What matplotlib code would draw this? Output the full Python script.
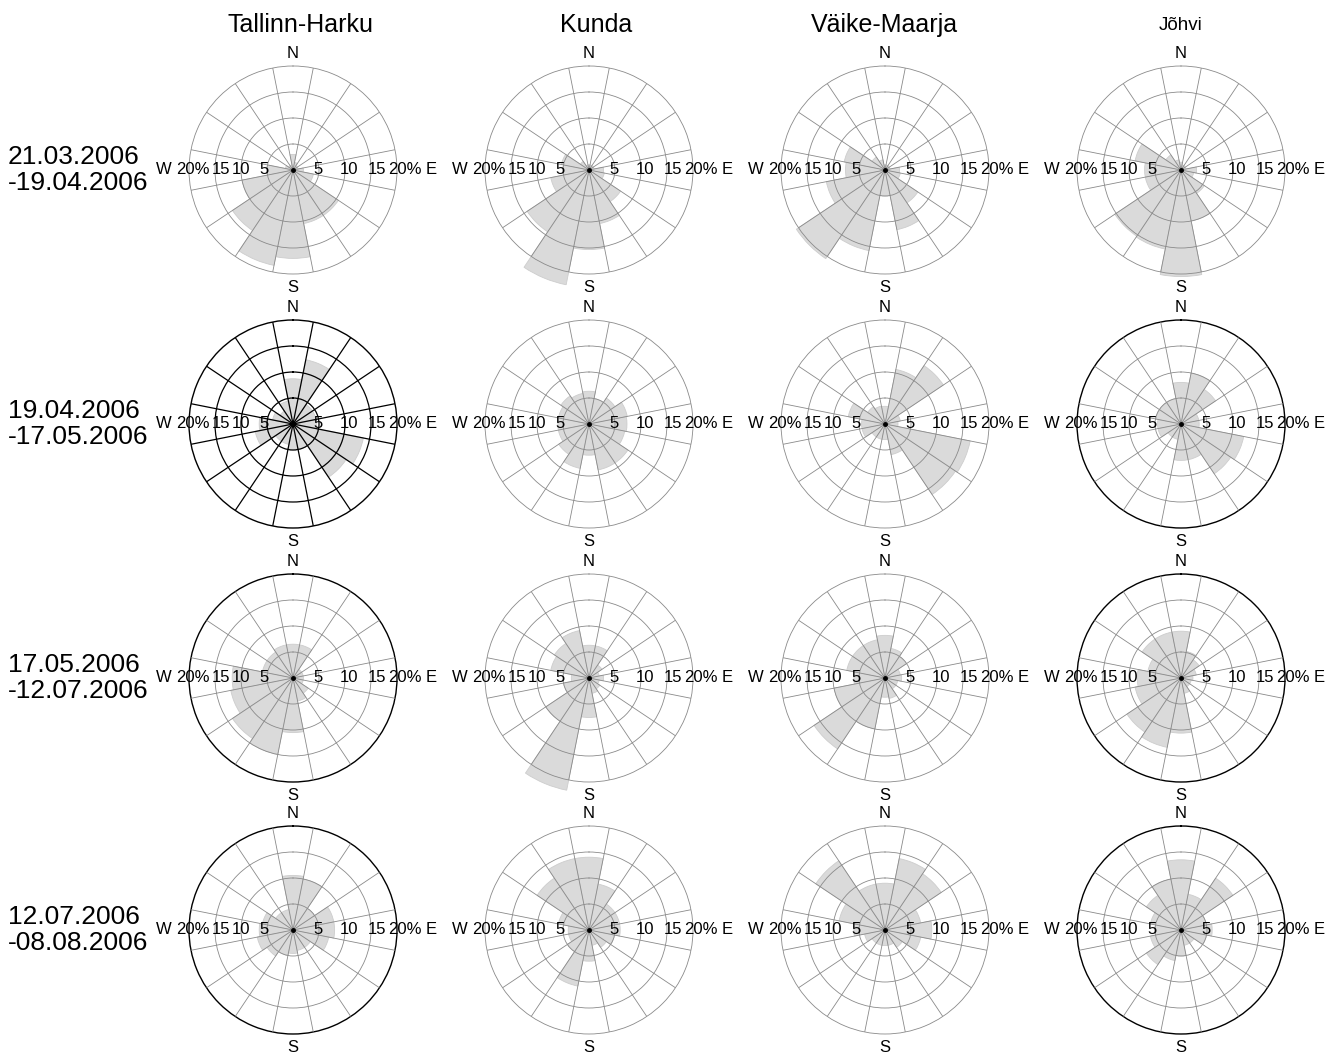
import numpy as np
import matplotlib.pyplot as plt

plt.rcParams['font.family'] = ['Liberation Sans', 'DejaVu Sans']

# 16 directions, clockwise from north
directions = ['N', 'NNE', 'NE', 'ENE', 'E', 'ESE', 'SE', 'SSE',
              'S', 'SSW', 'SW', 'WSW', 'W', 'WNW', 'NW', 'NNW']

stations = ['Tallinn-Harku', 'Kunda', 'Väike-Maarja', 'Jõhvi']
periods = ['21.03.2006\n-19.04.2006', '19.04.2006\n-17.05.2006',
           '17.05.2006\n-12.07.2006', '12.07.2006\n-08.08.2006']

# frequency (%) per direction, one list per station and period
tallinn_1 = [3, 1.5, 1, 1, 2, 4, 10.5, 10.5, 17, 18.7, 14, 10, 5, 1.5, 1, 1]
kunda_1 = [1, 1, 1, 1, 2.8, 3, 7.3, 10.5, 15.3, 22.5, 14.3, 7.5, 5, 5.4, 2, 1]
vmaarja_1 = [1, 1, 1, 1, 2.8, 3, 7.6, 11.7, 5, 15.8, 20.5, 11.5, 7.6, 8, 3, 2]
johvi_1 = [1.5, 1, 1, 1, 3, 2.5, 5.4, 10, 20.5, 15.5, 15.3, 7, 7, 9, 3.5, 2]

tallinn_2 = [8.7, 12.6, 4.5, 4.5, 4.5, 13.8, 12.3, 5, 5, 4, 4, 7.4, 6.5, 4, 3, 4.5]
kunda_2 = [6.3, 5, 6, 7.5, 7.3, 7, 9, 9, 6, 8.7, 7, 6, 6, 6, 6.5, 6]
vmaarja_2 = [3.4, 10.7, 13.5, 3, 2.5, 16.7, 16.3, 6, 3, 3, 3, 4.5, 4.5, 7.2, 4, 3.5]
johvi_2 = [8, 10, 8, 3.5, 3.5, 12.3, 11.5, 7, 7, 3, 3, 4.5, 4.5, 5, 5, 5]

tallinn_3 = [6.5, 6.5, 2, 2, 2, 2, 3.5, 4.5, 10.5, 15, 14, 12.2, 11.7, 6, 6, 6.5]
kunda_3 = [6.3, 6.3, 3, 2, 2.8, 2, 2.5, 3, 7.6, 22, 10, 5, 3.4, 7.5, 8, 9.3]
vmaarja_3 = [8.2, 5.8, 5, 3, 3.2, 2.5, 2.5, 4, 3.7, 10, 16.4, 10, 6, 7.5, 7.5, 7.5]
johvi_3 = [9, 5.2, 4.2, 3, 2.3, 2, 2, 3, 10.6, 13.6, 12.5, 9, 8.4, 6.5, 9, 9]

tallinn_4 = [10.5, 10, 5, 8, 8, 7, 4, 4, 4.5, 5, 6, 7, 6.5, 6, 4, 4]
kunda_4 = [14, 9, 6, 6, 6, 5, 4, 3, 6, 11, 5, 4, 4, 6, 12, 14]
vmaarja_4 = [9, 14, 13, 7, 9, 7, 4, 3, 3, 3, 3, 4, 6, 9, 16, 9]
johvi_4 = [13.5, 7, 12, 5, 6, 5, 3, 3, 5, 6, 8, 6, 5, 6, 8, 10]

data = [[tallinn_1, kunda_1, vmaarja_1, johvi_1],
        [tallinn_2, kunda_2, vmaarja_2, johvi_2],
        [tallinn_3, kunda_3, vmaarja_3, johvi_3],
        [tallinn_4, kunda_4, vmaarja_4, johvi_4]]

# grid look per panel: 'gray' thin gray grid, 'black' all black, 'ring' gray grid + black rim
styles = [['gray', 'gray', 'gray', 'gray'],
          ['black', 'gray', 'gray', 'ring'],
          ['ring', 'gray', 'gray', 'ring'],
          ['ring', 'gray', 'gray', 'ring']]

W, H = 1325, 1057
col_x = [293, 589, 885, 1181]
row_y = [170, 424, 678, 930]
rad = 104

fig = plt.figure(figsize=(W / 100, H / 100), dpi=100)

theta = np.deg2rad(np.arange(16) * 22.5)
width = np.deg2rad(22.5)
spokes = np.arange(16) * 22.5 + 11.25
fs = 12

for i in range(4):
    for j in range(4):
        cx, cy = col_x[j], row_y[i]
        ax = fig.add_axes([(cx - rad) / W, 1 - (cy + rad) / H, 2 * rad / W, 2 * rad / H],
                          projection='polar')
        ax.set_theta_zero_location('N')
        ax.set_theta_direction(-1)
        ax.bar(theta, data[i][j], width=width, bottom=0, color='#dadada',
               edgecolor='#cdcdcd', linewidth=0.6, clip_on=False, zorder=1)
        ax.set_ylim(0, 20)
        ax.set_thetagrids(spokes, labels=[''] * 16)
        ax.set_rgrids([5, 10, 15], labels=['', '', ''])
        st = styles[i][j]
        gcol = 'black' if st == 'black' else '#8a8a8a'
        glw = 0.9 if st == 'black' else 0.6
        ax.grid(True, color=gcol, linewidth=glw)
        ax.set_axisbelow(False)
        ax.spines['polar'].set_color('black' if st in ('black', 'ring') else '#8a8a8a')
        ax.spines['polar'].set_linewidth(1.0 if st in ('black', 'ring') else 0.6)
        ax.set_facecolor('none')
        ax.plot([0], [0], 'o', color='black', markersize=2.5, zorder=5)

        # ring labels along the east-west line
        east = np.pi / 2
        west = 3 * np.pi / 2
        for txt, r in zip(['5', '10', '15', '20%', 'E'], [4.8, 10.7, 16.1, 21.5, 26.6]):
            ax.text(east, r, txt, ha='center', va='center', fontsize=fs, clip_on=False)
        for txt, r in zip(['5', '10', '15', '20%', 'W'], [5.6, 10.0, 13.9, 19.3, 24.8]):
            ax.text(west, r, txt, ha='center', va='center', fontsize=fs, clip_on=False)
        ax.text(0, 22.4, 'N', ha='center', va='center', fontsize=fs, clip_on=False)
        ax.text(np.pi, 22.6, 'S', ha='center', va='center', fontsize=fs, clip_on=False)

title_x = [300, 596, 884, 1181]
title_fs = [18, 18, 18, 13.5]
for j in range(4):
    fig.text(title_x[j] / W, 1 - 25 / H, stations[j], ha='center', va='center',
             fontsize=title_fs[j])

for i in range(4):
    fig.text(8 / W, 1 - row_y[i] / H, periods[i], ha='left', va='center',
             fontsize=19, linespacing=1.15)

fig.savefig('out.png', dpi=100)
